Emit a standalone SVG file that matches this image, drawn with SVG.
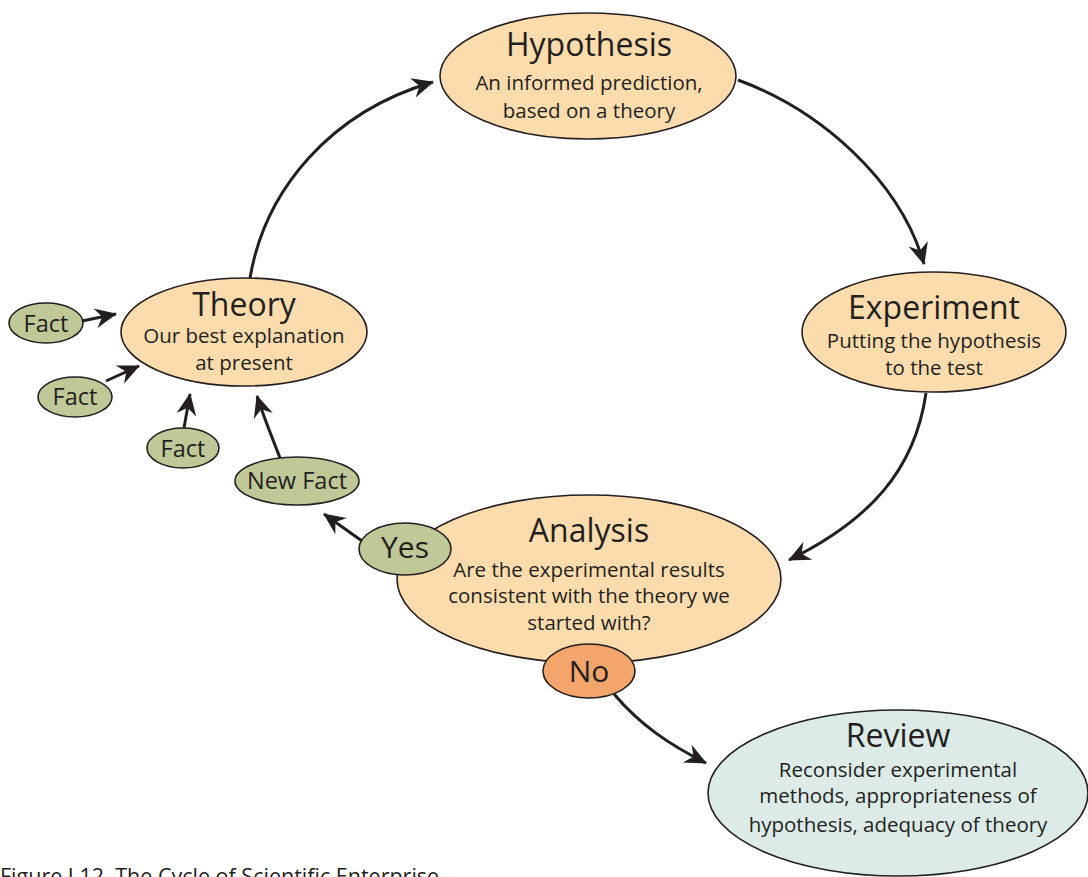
<svg xmlns="http://www.w3.org/2000/svg" width="1088" height="877" viewBox="0 0 1088 877">
<style>
.n{stroke:#231f20;stroke-width:1.6}
.main{fill:#fcdcad}
.fact{fill:#c0c898}
.no{fill:#f4a56c}
.rev{fill:#dcebe7}
text{font-family:"Open Sans","Liberation Sans",sans-serif;fill:#231f20;text-anchor:middle}
.t{font-size:32px}
.s{font-size:20.5px}
.f{font-size:23.5px}
.yn{font-size:30px}
.c{stroke:#231f20;stroke-width:3;fill:none;marker-end:url(#ah)}
</style>
<defs>
<marker id="ah" markerUnits="userSpaceOnUse" markerWidth="30" markerHeight="30" orient="auto" overflow="visible" refX="0" refY="0">
<path d="M1,0 L-21,-10 L-14,0 L-21,10 Z" fill="#231f20"/>
</marker>
</defs>
<rect width="1088" height="877" fill="#ffffff"/>
<g id="connectors">
<path class="c" d="M250,278 C265,190 330,112 433,82"/>
<path class="c" d="M738,80 C820,110 900,180 924,264"/>
<path class="c" d="M926,393 C915,470 870,520 789,560"/>
<path class="c" d="M614,694 C640,725 670,745 706,763"/>
<path class="c" d="M362,541 L324,514"/>
<path class="c" d="M280,458 C272,437 264,418 257,396"/>
<path class="c" d="M184,428 L190,394"/>
<path class="c" d="M106,381 L139,366"/>
<path class="c" d="M82,321 L116,314"/>
</g>
<g id="hypothesis">
<ellipse class="n main" cx="588" cy="76" rx="148" ry="63"/>
<text class="t" x="589" y="56">Hypothesis</text>
<text class="s" x="589" y="90">An informed prediction,</text>
<text class="s" x="589" y="118">based on a theory</text>
</g>
<g id="experiment">
<ellipse class="n main" cx="934" cy="332" rx="132" ry="60"/>
<text class="t" x="934" y="319">Experiment</text>
<text class="s" x="934" y="348">Putting the hypothesis</text>
<text class="s" x="934" y="375">to the test</text>
</g>
<g id="theory">
<ellipse class="n main" cx="244" cy="332" rx="123" ry="54"/>
<text class="t" x="244" y="316">Theory</text>
<text class="s" x="244" y="343">Our best explanation</text>
<text class="s" x="244" y="370">at present</text>
</g>
<g id="analysis">
<ellipse class="n main" cx="589" cy="579" rx="192" ry="84"/>
<text class="t" x="589" y="542">Analysis</text>
<text class="s" x="589" y="577">Are the experimental results</text>
<text class="s" x="589" y="603">consistent with the theory we</text>
<text class="s" x="589" y="630">started with?</text>
</g>
<g id="yes">
<ellipse class="n fact" cx="405" cy="549" rx="46" ry="26"/>
<text class="yn" x="405" y="558">Yes</text>
</g>
<g id="no">
<ellipse class="n no" cx="589" cy="671" rx="46" ry="27"/>
<text class="yn" x="589" y="682">No</text>
</g>
<g id="review">
<ellipse class="n rev" cx="898" cy="793" rx="190" ry="83"/>
<text class="t" x="898" y="747">Review</text>
<text class="s" x="898" y="777">Reconsider experimental</text>
<text class="s" x="898" y="803">methods, appropriateness of</text>
<text class="s" x="898" y="832">hypothesis, adequacy of theory</text>
</g>
<g id="fact1">
<ellipse class="n fact" cx="46" cy="323" rx="37" ry="20"/>
<text class="f" x="46" y="332">Fact</text>
</g>
<g id="fact2">
<ellipse class="n fact" cx="75" cy="397" rx="37" ry="20"/>
<text class="f" x="75" y="405">Fact</text>
</g>
<g id="fact3">
<ellipse class="n fact" cx="183" cy="448" rx="36" ry="20"/>
<text class="f" x="183" y="457">Fact</text>
</g>
<g id="newfact">
<ellipse class="n fact" cx="297" cy="481" rx="62" ry="24"/>
<text class="f" x="297" y="489">New Fact</text>
</g>
<text x="0" y="884" style="font-size:21.5px;text-anchor:start;white-space:pre">Figure I.12  The Cycle of Scientific Enterprise</text>
</svg>
